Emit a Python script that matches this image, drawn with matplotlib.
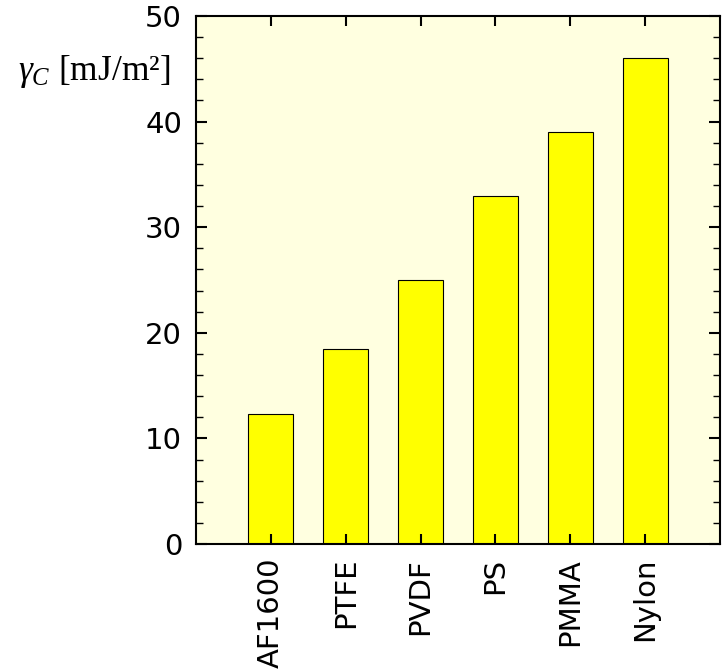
import numpy as np
import matplotlib
matplotlib.use("Agg")
import matplotlib.pyplot as plt
from matplotlib.ticker import MultipleLocator

materials = ["AF1600", "PTFE", "PVDF", "PS", "PMMA", "Nylon"]
gamma_c = [12.3, 18.5, 25.0, 33.0, 39.0, 46.0]

plt.rcParams["mathtext.fontset"] = "custom"
plt.rcParams["mathtext.rm"] = "Liberation Serif"
plt.rcParams["mathtext.it"] = "Liberation Serif:italic"

fig = plt.figure(figsize=(7.28, 6.72), dpi=100)
ax = fig.add_axes([196 / 728, 1 - 544 / 672, 524 / 728, 528 / 672])
ax.set_facecolor("#FFFFE0")

x = np.arange(1, len(materials) + 1)
ax.bar(x, gamma_c, width=0.6, color="#FFFF00", edgecolor="black", linewidth=0.8)

ax.set_xlim(0, 7)
ax.set_ylim(0, 50)
ax.set_xticks(x)
ax.set_xticklabels(materials, rotation=90, fontsize=21, family="DejaVu Sans")
ax.yaxis.set_major_locator(MultipleLocator(10))
ax.yaxis.set_minor_locator(MultipleLocator(2))
for lab in ax.get_yticklabels():
    lab.set_fontsize(21)

ax.tick_params(which="both", direction="in", top=True, right=True)
ax.tick_params(which="major", length=8, width=1.5, pad=10)
ax.tick_params(which="minor", length=5, width=1)
ax.tick_params(axis="x", which="major", length=7)
for s in ax.spines.values():
    s.set_linewidth(1.5)

fig.text(18 / 728, 1 - 72 / 672, r"$\gamma_C$ [mJ/m²]", fontsize=25.5,
         family="Liberation Serif", va="center", ha="left")

fig.savefig("out.png", dpi=100)
